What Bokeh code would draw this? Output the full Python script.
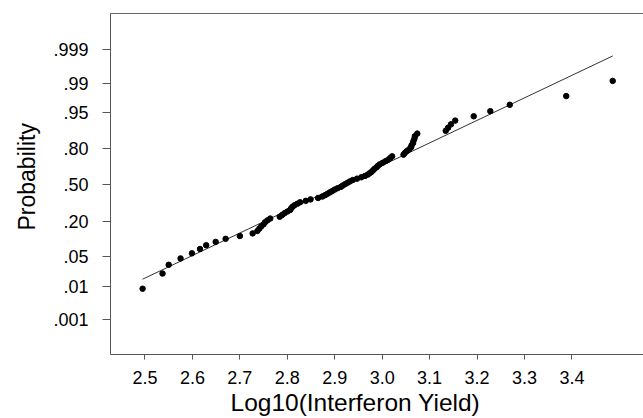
from statistics import NormalDist

from bokeh.plotting import figure
from bokeh.models import Range1d, FixedTicker, LinearAxis, Title
from bokeh.embed import file_html
from bokeh.resources import INLINE

# ---- data ----
# sorted log10 interferon yields (one per observation)
log_yield = [
    2.495, 2.537, 2.550, 2.575, 2.599, 2.616, 2.629, 2.649, 2.670, 2.700,
    2.727, 2.737, 2.741, 2.745, 2.750, 2.753, 2.758, 2.764, 2.784, 2.789,
    2.794, 2.800, 2.806, 2.808, 2.811, 2.815, 2.821, 2.827, 2.839, 2.849,
    2.865, 2.874, 2.880, 2.885, 2.890, 2.895, 2.900, 2.906, 2.913, 2.917,
    2.922, 2.927, 2.932, 2.938, 2.947, 2.956, 2.964, 2.970, 2.974, 2.978,
    2.981, 2.984, 2.988, 2.991, 2.995, 3.001, 3.007, 3.013, 3.017, 3.021,
    3.045, 3.048, 3.052, 3.057, 3.061, 3.062, 3.065, 3.066, 3.068, 3.069,
    3.074, 3.134, 3.139, 3.145, 3.154, 3.193, 3.228, 3.269, 3.388, 3.486,
]
# fitted normal line parameters
fit_mu = 2.914
fit_sigma = 0.194

prob_ticks = [0.001, 0.01, 0.05, 0.20, 0.50, 0.80, 0.95, 0.99, 0.999]
prob_labels = [".001", ".01", ".05", ".20", ".50", ".80", ".95", ".99", ".999"]
x_ticks = [2.5, 2.6, 2.7, 2.8, 2.9, 3.0, 3.1, 3.2, 3.3, 3.4]
x_labels = ["2.5", "2.6", "2.7", "2.8", "2.9", "3.0", "3.1", "3.2", "3.3", "3.4"]

# ---- derived: plotting positions (median ranks) on the normal scale ----
nd = NormalDist()
n = len(log_yield)
z_points = [nd.inv_cdf((i - 0.3) / (n + 0.4)) for i in range(1, n + 1)]
line_x = [min(log_yield), max(log_yield)]
line_z = [(v - fit_mu) / fit_sigma for v in line_x]
z_ticks = [nd.inv_cdf(p) for p in prob_ticks]

FONT = "Liberation Sans"
AXC = "#555555"

p = figure(width=643, height=418, output_backend="svg", toolbar_location=None,
           x_range=Range1d(2.4273, 3.5509), y_range=Range1d(-3.883, 3.920),
           x_axis_type=None, y_axis_type=None,
           min_border_left=107, min_border_right=0, min_border_top=13,
           min_border_bottom=64)
p.outline_line_color = None
p.xgrid.visible = False
p.ygrid.visible = False
p.background_fill_color = "white"
p.border_fill_color = "white"

xaxis = LinearAxis(ticker=FixedTicker(ticks=x_ticks, minor_ticks=[]))
xaxis.major_label_overrides = {t: l for t, l in zip(x_ticks, x_labels)}
xaxis.axis_line_color = AXC
xaxis.major_tick_line_color = AXC
xaxis.major_tick_out = 5
xaxis.major_tick_in = 0
xaxis.minor_tick_line_color = None
xaxis.major_label_text_font = FONT
xaxis.major_label_text_font_size = "18px"
xaxis.major_label_text_color = "black"
xaxis.major_label_standoff = 11
p.add_layout(xaxis, "below")

yaxis = LinearAxis(ticker=FixedTicker(ticks=z_ticks, minor_ticks=[]))
yaxis.major_label_overrides = {t: l for t, l in zip(z_ticks, prob_labels)}
yaxis.axis_line_color = AXC
yaxis.major_tick_line_color = AXC
yaxis.major_tick_out = 8
yaxis.major_tick_in = 0
yaxis.minor_tick_line_color = None
yaxis.major_label_text_font = FONT
yaxis.major_label_text_font_size = "18px"
yaxis.major_label_text_color = "black"
yaxis.major_label_standoff = 14
p.add_layout(yaxis, "left")

top = LinearAxis(ticker=FixedTicker(ticks=[], minor_ticks=[]))
top.axis_line_color = "#666666"
top.major_tick_line_color = None
top.minor_tick_line_color = None
p.add_layout(top, "above")

p.add_layout(Title(text="Log10(Interferon Yield)", align="left", offset=120,
                   text_font=FONT, text_font_size="24.5px",
                   text_font_style="normal", text_color="black",
                   standoff=0), "below")
p.add_layout(Title(text="Probability", align="left", offset=124,
                   text_font=FONT, text_font_size="23px",
                   text_font_style="normal", text_color="black",
                   standoff=22), "left")

p.line(line_x, line_z, line_color="#333333", line_width=1)
p.scatter(log_yield, z_points, size=5.5, color="black")

open("out.html", "w").write(file_html(p, INLINE))
